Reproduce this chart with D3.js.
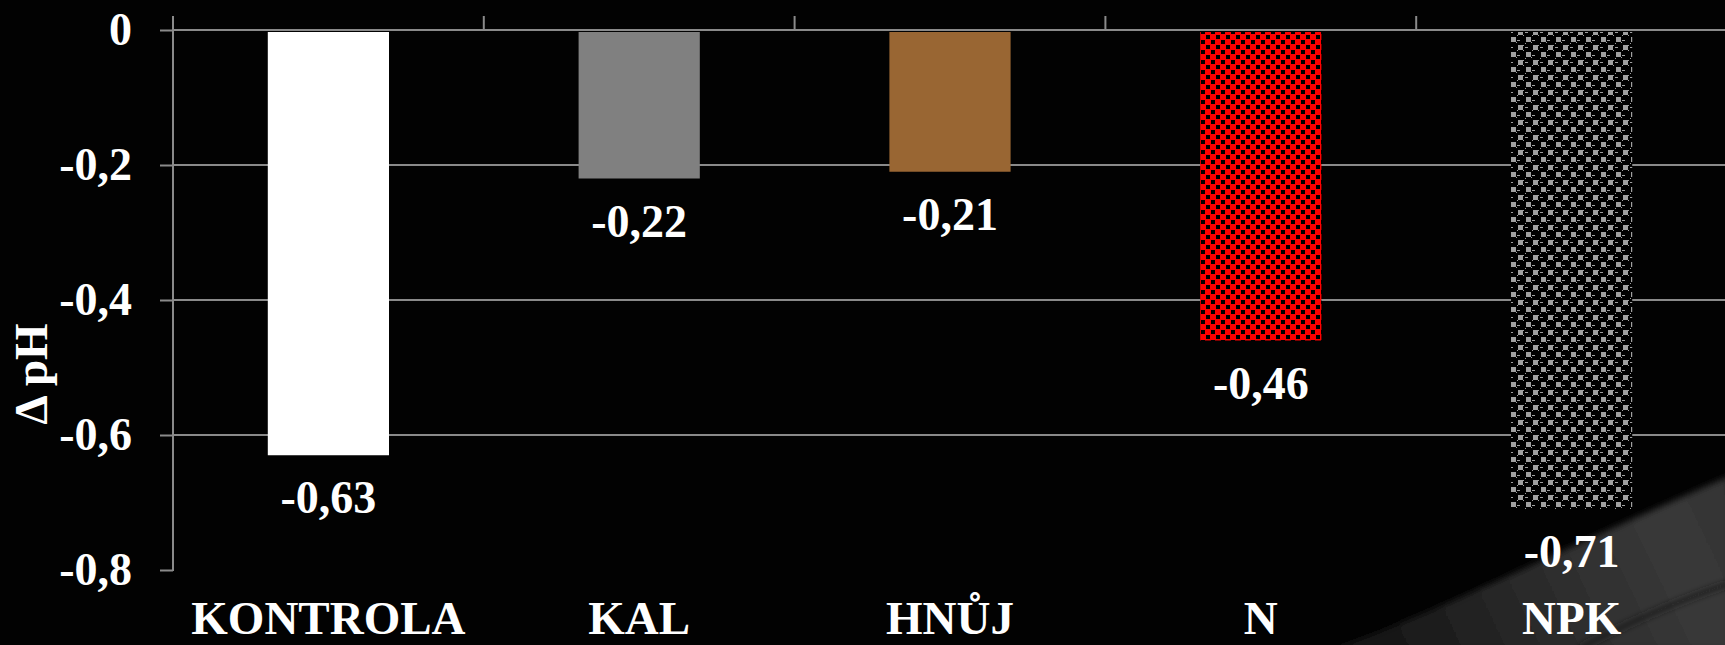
<!DOCTYPE html>
<html>
<head>
<meta charset="utf-8">
<script src="https://cdn.jsdelivr.net/npm/d3@7"></script>
<style>
  html, body { margin: 0; padding: 0; background: #020202; }
  svg { display: block; }
  text { font-family: "Liberation Serif", "Times New Roman", serif; font-weight: bold; fill: #ffffff; }
</style>
</head>
<body>
<svg id="chart" width="1725" height="645"></svg>
<script>
// pH change per treatment
const categories = ["KONTROLA", "KAL", "HNŮJ", "N", "NPK"];
const deltaPH = [-0.63, -0.22, -0.21, -0.46, -0.71];
const yTicks = [0, -0.2, -0.4, -0.6, -0.8];
const yTitle = "Δ pH";

const W = 1725, H = 645;
const svg = d3.select("#chart");

const cs = d3.formatLocale({ decimal: ",", thousands: " ", grouping: [3], currency: ["", ""], minus: "-" });
const fmtTick = v => v === 0 ? "0" : cs.format(".1f")(v);
const fmtVal = cs.format(".2f");

const y = d3.scaleLinear().domain([-0.8, 0]).range([570, 30]);
const x = d3.scaleBand().domain(categories).range([173, 1727]).paddingInner(0.61).paddingOuter(0.305);

const defs = svg.append("defs");

// red fill with staggered black squares
const pN = defs.append("pattern").attr("id", "patN").attr("patternUnits", "userSpaceOnUse")
  .attr("width", 10).attr("height", 10);
pN.append("rect").attr("width", 10).attr("height", 10).attr("fill", "#ff0000");
pN.append("rect").attr("x", 1).attr("y", 0).attr("width", 4).attr("height", 4).attr("fill", "#000");
pN.append("rect").attr("x", 6).attr("y", 5).attr("width", 4).attr("height", 4).attr("fill", "#000");

// grey sphere-like checker on black
const pK = defs.append("pattern").attr("id", "patNPK").attr("patternUnits", "userSpaceOnUse")
  .attr("width", 15).attr("height", 15);
pK.append("rect").attr("width", 15).attr("height", 15).attr("fill", "#000");
const g1 = "#a0a0a0";
[[3,0,5,5],[11,7,5,5],[-4,7,5,5],[2,5,1,1],[8,5,1,1],[10,13,1,1],[1,12,1,1],[10,2,3,1],[2,10,3,1],[8,0,1,1],[0,8,1,1]]
  .forEach(([a,b,w,h]) => pK.append("rect").attr("x", a).attr("y", b).attr("width", w).attr("height", h).attr("fill", g1));

const fills = ["#ffffff", "#808080", "#996633", "url(#patN)", "url(#patNPK)"];

// light sweep in the lower right corner
const grad = defs.append("linearGradient").attr("id", "sweep")
  .attr("gradientUnits", "userSpaceOnUse").attr("x1", 1360).attr("y1", 645).attr("x2", 1725).attr("y2", 470);
grad.append("stop").attr("offset", "0").attr("stop-color", "#141414");
grad.append("stop").attr("offset", "0.45").attr("stop-color", "#2b2b2b");
grad.append("stop").attr("offset", "0.8").attr("stop-color", "#393939");
grad.append("stop").attr("offset", "1").attr("stop-color", "#333333");
const soft = defs.append("filter").attr("id", "soft")
  .attr("x", "-20%").attr("y", "-20%").attr("width", "140%").attr("height", "140%");
soft.append("feGaussianBlur").attr("stdDeviation", 3);

svg.append("rect").attr("width", W).attr("height", H).attr("fill", "#020202");
svg.append("path")
  .attr("d", "M1330,650 C1440,612 1570,545 1730,476 L1730,650 Z")
  .attr("fill", "url(#sweep)").attr("filter", "url(#soft)");
svg.append("path")
  .attr("d", "M1580,648 C1630,622 1680,600 1728,584")
  .attr("fill", "none").attr("stroke", "#1c1c1c").attr("stroke-width", 4).attr("filter", "url(#soft)");

const lineCol = "#8a8a8a";

// horizontal gridlines
svg.append("g").selectAll("line").data(yTicks.filter(t => t !== -0.8)).join("line")
  .attr("x1", 173).attr("x2", W)
  .attr("y1", d => y(d)).attr("y2", d => y(d))
  .attr("stroke", lineCol).attr("stroke-width", 2);

// category separators above the zero line
const step = x.step();
const bounds = categories.map(c => x(c) - step * x.paddingInner() / 2);
svg.append("g").selectAll("line").data(bounds).join("line")
  .attr("x1", d => d).attr("x2", d => d).attr("y1", 16).attr("y2", y(0))
  .attr("stroke", lineCol).attr("stroke-width", 2);

// bars
svg.append("g").selectAll("rect").data(categories).join("rect")
  .attr("x", c => x(c))
  .attr("width", x.bandwidth())
  .attr("y", (c, i) => y(Math.max(0, deltaPH[i])) + 2)
  .attr("height", (c, i) => Math.abs(y(deltaPH[i]) - y(0)) - 2)
  .attr("fill", (c, i) => fills[i]);

// y axis
const yAxis = d3.axisLeft(y).tickValues(yTicks).tickFormat(fmtTick).tickSize(13).tickSizeOuter(0).tickPadding(28);
const ga = svg.append("g").attr("transform", "translate(173,0)").call(yAxis);
ga.select(".domain").remove();
ga.selectAll(".tick line").attr("stroke", lineCol).attr("stroke-width", 2);
ga.selectAll(".tick text").attr("font-size", 46).attr("fill", "#fff")
  .attr("font-family", "Liberation Serif, Times New Roman, serif").attr("font-weight", "bold");
svg.append("line").attr("x1", 173).attr("x2", 173).attr("y1", 16).attr("y2", y(-0.8) + 1)
  .attr("stroke", lineCol).attr("stroke-width", 2);

// value labels
svg.append("g").selectAll("text").data(categories).join("text")
  .attr("x", c => x(c) + x.bandwidth() / 2)
  .attr("y", (c, i) => y(deltaPH[i]) + 58)
  .attr("text-anchor", "middle").attr("font-size", 46)
  .text((c, i) => fmtVal(deltaPH[i]));

// category labels
svg.append("g").selectAll("text").data(categories).join("text")
  .attr("x", c => x(c) + x.bandwidth() / 2)
  .attr("y", 634)
  .attr("text-anchor", "middle").attr("font-size", 47)
  .text(c => c);

// y title
svg.append("text").attr("transform", "translate(47,374) rotate(-90)")
  .attr("text-anchor", "middle").attr("font-size", 47).text(yTitle);
</script>
</body>
</html>
